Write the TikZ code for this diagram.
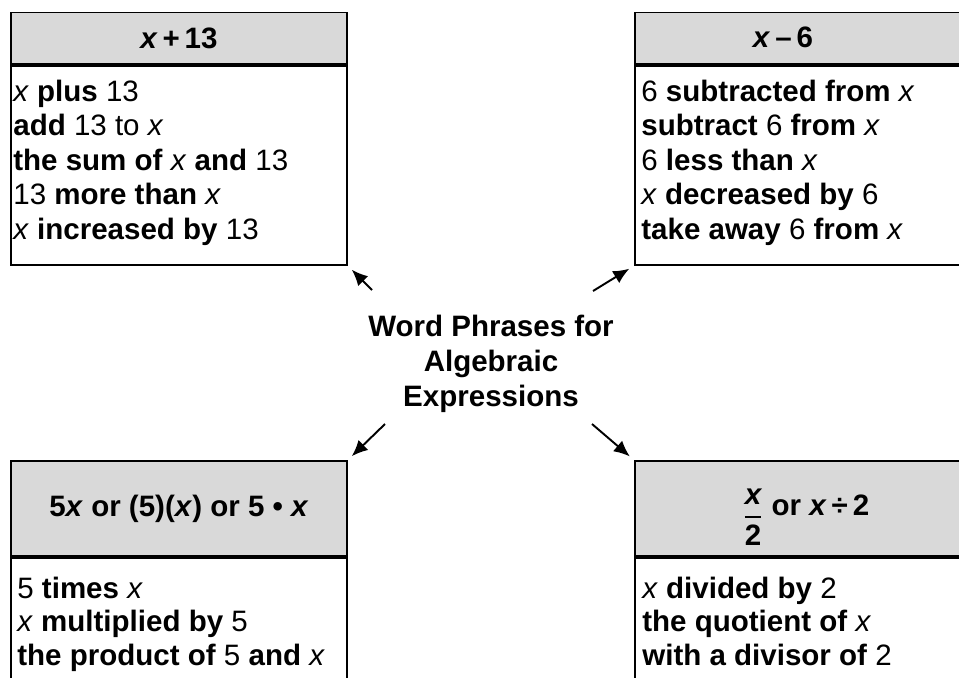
\documentclass[tikz,border=0pt]{standalone}
\usepackage{amsmath}
\usepackage{fontspec}
\setmainfont{Liberation Sans}
\usetikzlibrary{arrows.meta}
\definecolor{headgray}{HTML}{D9D9D9}

\begin{document}
\begin{tikzpicture}[x=0.02cm, y=-0.02cm,
  every node/.style={font=\fontsize{16.8}{19.6}\selectfont},
  head/.style={draw, line width=1.1pt, fill=headgray, anchor=north west, inner sep=0pt},
  panel/.style={draw, line width=1.1pt, anchor=north west, inner sep=0pt},
  headtext/.style={font=\fontsize{16.8}{19.6}\selectfont\bfseries, inner sep=0pt},
  lines/.style={align=left, anchor=base west, inner sep=0pt},
  pointer/.style={line width=1.1pt, -{Latex[length=3.2mm,width=2.8mm]}, shorten >=0.11cm}]
\useasboundingbox (0,0) rectangle (959,677);
\clip (0,0) rectangle (959,677);

% Addition box
\node[head, minimum width=6.72cm, minimum height=1.03cm] (addhead) at (10,11.5) {};
\node[panel, minimum width=6.72cm, minimum height=3.98cm] (addpanel) at (addhead.south west) {};
\node[headtext] (addtitle) at (addhead.center) {\textit{x}\,+\,13};
% (base of a multi-line node is its last line)
\node[lines] (addlines) at (13,239) {\textit{x} \textbf{plus} 13\\
  \textbf{add} 13 to \textit{x}\\
  \textbf{the sum of} \textit{x} \textbf{and} 13\\
  13 \textbf{more than} \textit{x}\\
  \textit{x} \textbf{increased by} 13};

% Subtraction box
\node[head, minimum width=7cm, minimum height=1.03cm] (subhead) at (634,11.5) {};
\node[panel, minimum width=7cm, minimum height=3.98cm] (subpanel) at (subhead.south west) {};
\node[headtext] (subtitle) at (783,37) {\textit{x}\,\textendash\,6};
\node[lines] (sublines) at (641,239) {6 \textbf{subtracted from} \textit{x}\\
  \textbf{subtract} 6 \textbf{from} \textit{x}\\
  6 \textbf{less than} \textit{x}\\
  \textit{x} \textbf{decreased by} 6\\
  \textbf{take away} 6 \textbf{from} \textit{x}};

% Multiplication box
\node[head, minimum width=6.72cm, minimum height=1.9cm] (mulhead) at (10,460) {};
\node[panel, minimum width=6.72cm, minimum height=2.9cm] (mulpanel) at (mulhead.south west) {};
\node[headtext] (multitle) at (mulhead.center) {5\textit{x} or (5)(\textit{x}) or 5 • \textit{x}};
\node[lines, font=\fontsize{16.8}{19}\selectfont] (mullines) at (17,665) {5 \textbf{times} \textit{x}\\
  \textit{x} \textbf{multiplied by} 5\\
  \textbf{the product of} 5 \textbf{and} \textit{x}};

% Division box
\node[head, minimum width=7cm, minimum height=1.9cm] (divhead) at (634,460) {};
\node[panel, minimum width=7cm, minimum height=2.9cm] (divpanel) at (divhead.south west) {};
\node[headtext, anchor=base] (divtitle) at (806,515) {\raisebox{-5.5pt}{$\genfrac{}{}{1pt}{0}{\text{\itshape x}}{\text{2}}$} or \textit{x}\,÷\,2};
\node[lines, font=\fontsize{16.8}{19}\selectfont] (divlines) at (642,665) {\textit{x} \textbf{divided by} 2\\
  \textbf{the quotient of} \textit{x}\\
  \textbf{with a divisor of} 2};

% Centre
\node[align=center, font=\fontsize{16.8}{19.9}\selectfont\bfseries] (phrases) at (491,364) {Word Phrases for\\Algebraic\\Expressions};

% Arrows
\coordinate (addtail) at (372,290);
\coordinate (subtail) at (593,291);
\coordinate (multail) at (385,424);
\coordinate (divtail) at (592,424);
\draw[pointer] (addtail) -- (addpanel.south east);
\draw[pointer] (subtail) -- (subpanel.south west);
\draw[pointer] (multail) -- (mulhead.north east);
\draw[pointer] (divtail) -- (divhead.north west);
\end{tikzpicture}
\end{document}
